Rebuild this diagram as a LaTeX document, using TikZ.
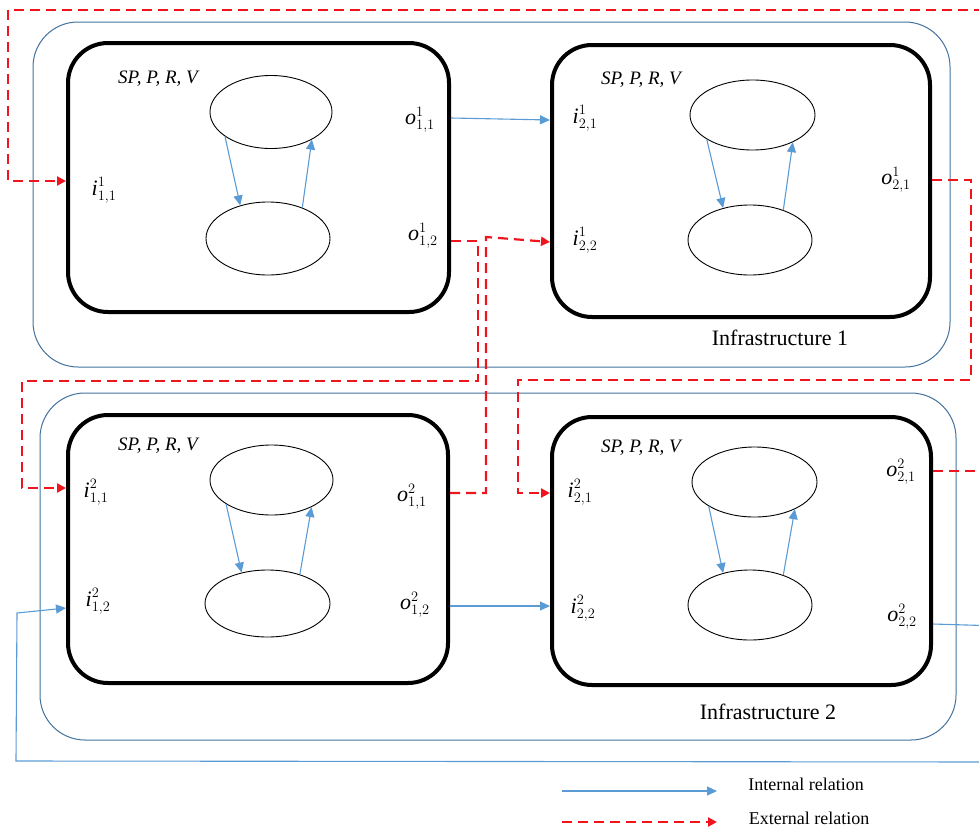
\documentclass[tikz,border=0pt]{standalone}
\usepackage{fontspec}
\setmainfont{Liberation Serif}
\usetikzlibrary{arrows.meta,shapes.geometric}
\definecolor{arrblue}{RGB}{91,155,213}
\definecolor{frameblue}{RGB}{65,113,156}
\definecolor{extred}{RGB}{240,20,30}
\begin{document}
\begin{tikzpicture}[x=1pt,y=-1pt,
  infra/.style={draw=frameblue, line width=1pt, rounded corners=45pt, inner sep=0pt},
  sysbox/.style={draw=black, line width=4pt, rounded corners=40pt, inner sep=0pt},
  ell/.style={ellipse, draw=black, line width=0.9pt, inner sep=0pt},
  intarrow/.style={draw=arrblue, line width=1.1pt, -{Triangle[length=10pt,width=9pt]}},
  extarrow/.style={draw=extred, line width=2.2pt, dash pattern=on 10pt off 6pt, -{Triangle[length=9pt,width=9pt]}},
  lbl/.style={inner sep=0pt, font=\fontsize{22}{26}\selectfont},
  spr/.style={inner sep=0pt, font=\fontsize{19}{22}\selectfont\itshape},
  infratxt/.style={inner sep=0pt, font=\fontsize{22}{26}\selectfont},
  legtxt/.style={inner sep=0pt, font=\fontsize{18}{22}\selectfont}]
\useasboundingbox (0,0) rectangle (979,830);
\clip (0,0) rectangle (979,830);

% infrastructures
\node[infra, minimum width=917pt, minimum height=345pt] (inf1) at (491.5,194.5) {};
\node[infra, minimum width=916pt, minimum height=347pt] (inf2) at (498,566.5) {};

% system boxes
\node[sysbox, minimum width=381pt, minimum height=269pt] (b11) at (258.5,177.5) {};
\node[sysbox, minimum width=378pt, minimum height=272pt] (b21) at (741,181) {};
\node[sysbox, minimum width=380pt, minimum height=268pt] (b12) at (258,549) {};
\node[sysbox, minimum width=379pt, minimum height=268pt] (b22) at (741.5,551) {};

% ellipses
\node[ell, minimum width=122pt, minimum height=73pt] (e11t) at (271,112) {};
\node[ell, minimum width=124pt, minimum height=73pt] (e11b) at (268,238.5) {};
\node[ell, minimum width=125pt, minimum height=70pt] (e21t) at (752.5,115) {};
\node[ell, minimum width=124pt, minimum height=70pt] (e21b) at (750,240) {};
\node[ell, minimum width=123pt, minimum height=70pt] (e12t) at (271.5,480) {};
\node[ell, minimum width=125pt, minimum height=67pt] (e12b) at (267.5,603.5) {};
\node[ell, minimum width=125pt, minimum height=70pt] (e22t) at (754.5,482) {};
\node[ell, minimum width=124pt, minimum height=70pt] (e22b) at (750,605) {};

% internal arrows inside boxes
\foreach \s in {11,21,12,22}{
  \draw[intarrow] (e\s t.208) -- (e\s b.130);
  \draw[intarrow] (e\s b.42) -- (e\s t.326);
}

% SP,P,R,V labels
\node[spr] (s11) at (158,79) {SP, P, R, V};
\node[spr] (s21) at (641,80) {SP, P, R, V};
\node[spr] (s12) at (158,446) {SP, P, R, V};
\node[spr] (s22) at (641,448) {SP, P, R, V};

% port labels
\node[lbl] (i111) at (104,190) {$\textit{i}^{1}_{1,1}$};
\node[lbl] (o111) at (420,120) {$\textit{o}^{1}_{1,1}$};
\node[lbl] (o112) at (423,236) {$\textit{o}^{1}_{1,2}$};
\node[lbl] (i121) at (585,118) {$\textit{i}^{1}_{2,1}$};
\node[lbl] (i122) at (585,240) {$\textit{i}^{1}_{2,2}$};
\node[lbl] (o121) at (896,180) {$\textit{o}^{1}_{2,1}$};
\node[lbl] (i211) at (96,492) {$\textit{i}^{2}_{1,1}$};
\node[lbl] (i212) at (98,601) {$\textit{i}^{2}_{1,2}$};
\node[lbl] (o211) at (412,497) {$\textit{o}^{2}_{1,1}$};
\node[lbl] (o212) at (415,605) {$\textit{o}^{2}_{1,2}$};
\node[lbl] (i221) at (580,492) {$\textit{i}^{2}_{2,1}$};
\node[lbl] (i222) at (583,608) {$\textit{i}^{2}_{2,2}$};
\node[lbl] (o221) at (901,472) {$\textit{o}^{2}_{2,1}$};
\node[lbl] (o222) at (902,617) {$\textit{o}^{2}_{2,2}$};

% infrastructure names
\node[infratxt] (n1) at (780,338) {Infrastructure 1};
\node[infratxt] (n2) at (768,712) {Infrastructure 2};

% internal relations between systems
\draw[intarrow] (b11.east |- 0,118) -- (b21.west |- 0,120);
\draw[intarrow] (b12.east |- 0,606) -- (b22.west |- 0,606);
\draw[intarrow] (b22.east |- 0,624) -- (1000,626) -- (1000,762) -- (16,761) -- (17,613) -- (b12.west |- 0,608);

% external relations
\draw[extarrow] (b22.east |- 0,471) -- (1000,471) -- (1000,10) -- (8,10) -- (8,181) -- (b11.west |- 0,181);
\draw[extarrow] (b11.east |- 0,241) -- (478,241) -- (478,381) -- (22,381) -- (22,488) -- (b12.west |- 0,488);
\draw[extarrow] (b12.east |- 0,493) -- (486,493) -- (486,237) -- (b21.west |- 0,242);
\draw[extarrow] (b21.east |- 0,180) -- (971,180) -- (971,380) -- (518,380) -- (518,493) -- (b22.west |- 0,493);

% legend
\coordinate (l1a) at (562,791);
\coordinate (l1b) at (717,791);
\coordinate (l2a) at (562,822);
\coordinate (l2b) at (717,822);
\draw[intarrow] (l1a) -- (l1b);
\draw[extarrow] (l2a) -- (l2b);
\node[legtxt] (lt1) at (806,784) {Internal relation};
\node[legtxt] (lt2) at (809,818) {External relation};
\end{tikzpicture}
\end{document}
